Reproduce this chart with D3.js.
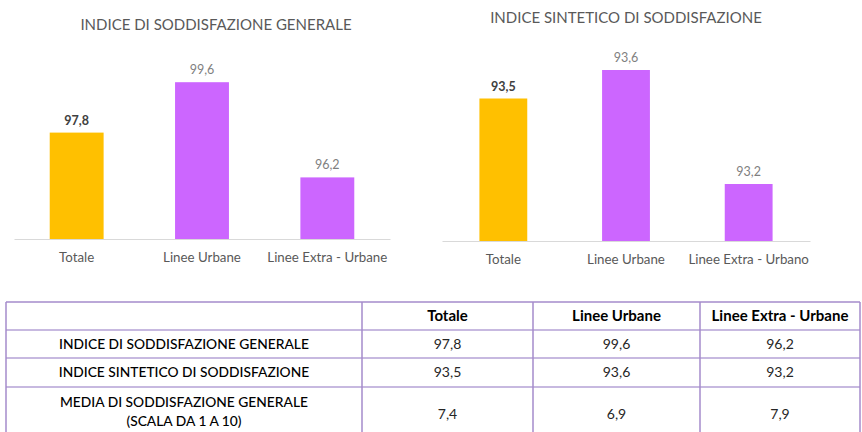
<!DOCTYPE html>
<html><head><meta charset="utf-8">
<script src="https://cdn.jsdelivr.net/npm/d3@7"></script>
<style>
body{margin:0;background:#fff;}
svg{display:block;font-family:Lato,"Open Sans",sans-serif;}
</style></head>
<body><svg id="c" width="862" height="432"></svg>
<script>
// ---- data ----
const categories1 = ["Totale", "Linee Urbane", "Linee Extra - Urbane"];
const categories2 = ["Totale", "Linee Urbane", "Linee Extra - Urbano"];
const indiceGenerale = [97.8, 99.6, 96.2];
const indiceSintetico = [93.5, 93.6, 93.2];
const mediaGenerale = [7.4, 6.9, 7.9];
const title1 = "INDICE DI SODDISFAZIONE GENERALE";
const title2 = "INDICE SINTETICO DI SODDISFAZIONE";
const tableColumns = ["Totale", "Linee Urbane", "Linee Extra - Urbane"];
const rowLabels = [["INDICE DI SODDISFAZIONE GENERALE"], ["INDICE SINTETICO DI SODDISFAZIONE"], ["MEDIA DI SODDISFAZIONE GENERALE", "(SCALA DA 1 A 10)"]];
const tableValues = [indiceGenerale, indiceSintetico, mediaGenerale];

const fmt = v => d3.format(".1f")(v).replace(".", ",");
const barColors = ["#FFC000", "#CC66FF", "#CC66FF"];
const svg = d3.select("#c");

function barChart(cfg) {
  const g = svg.append("g");
  const x = d3.scaleBand().domain(cfg.cats).range(cfg.xr).paddingInner(cfg.pi).paddingOuter(cfg.pi / 2);
  const y = d3.scaleLinear().domain(cfg.yd).range(cfg.yr);
  g.append("text").attr("x", cfg.tx).attr("y", cfg.ty).attr("text-anchor", "middle")
    .attr("fill", "#595959").attr("font-size", 15).text(cfg.title);
  g.selectAll("rect.bar").data(cfg.vals).join("rect").attr("class", "bar")
    .attr("x", (d, i) => x(cfg.cats[i])).attr("width", x.bandwidth())
    .attr("y", d => y(d)).attr("height", d => y(cfg.yd[0]) - y(d))
    .attr("fill", (d, i) => barColors[i]);
  g.selectAll("text.val").data(cfg.vals).join("text").attr("class", "val")
    .attr("x", (d, i) => x(cfg.cats[i]) + x.bandwidth() / 2).attr("y", d => y(d) - 8)
    .attr("text-anchor", "middle").attr("font-size", 12.5)
    .attr("fill", (d, i) => i === 0 ? "#404040" : "#7f7f7f")
    .attr("font-weight", (d, i) => i === 0 ? "bold" : "normal")
    .text(fmt);
  const ax = g.append("g").attr("transform", `translate(0,${y(cfg.yd[0])})`)
    .call(d3.axisBottom(x).tickSize(0).tickPadding(14));
  ax.select(".domain").attr("stroke", "#d9d9d9").attr("stroke-width", 1);
  ax.selectAll("text").attr("fill", "#595959").attr("font-size", 13.3).attr("font-family", "Lato,sans-serif");
}

barChart({cats: categories1, vals: indiceGenerale, xr: [14, 390], pi: 0.57, yd: [94, 100], yr: [239, 71],
  title: title1, tx: 216, ty: 30});
barChart({cats: categories2, vals: indiceSintetico, xr: [442, 810], pi: 0.61, yd: [93, 93.7], yr: [241, 41.5],
  title: title2, tx: 626, ty: 23});

// ---- table ----
const t = svg.append("g");
const colX = [6, 362, 533, 700, 860];
const rowY = [302, 330, 358, 387, 440];
const lineC = "#a48bcb";
rowY.slice(0, 4).forEach((yy, i) => t.append("line").attr("x1", colX[0]).attr("x2", colX[4])
  .attr("y1", yy).attr("y2", yy).attr("stroke", i === 0 ? lineC : "#b4a2d6").attr("stroke-width", 1.3));
colX.forEach(xx => t.append("line").attr("x1", xx).attr("x2", xx).attr("y1", rowY[0]).attr("y2", 432)
  .attr("stroke", lineC).attr("stroke-width", 1.5));
tableColumns.forEach((c, j) => t.append("text").attr("x", (colX[j + 1] + colX[j + 2]) / 2).attr("y", 321)
  .attr("text-anchor", "middle").attr("font-weight", "bold").attr("font-size", 15).attr("fill", "#000").text(c));
const rowCy = [344, 372, 411];
rowLabels.forEach((lines, i) => {
  const tx = t.append("text").attr("text-anchor", "middle").attr("font-size", 13.8).attr("fill", "#000")
    .attr("font-weight", 500);
  lines.forEach((ln, k) => tx.append("tspan").attr("x", (colX[0] + colX[1]) / 2)
    .attr("y", rowCy[i] + 5 + (k - (lines.length - 1) / 2) * 19).text(ln));
  tableValues[i].forEach((v, j) => t.append("text").attr("x", (colX[j + 1] + colX[j + 2]) / 2)
    .attr("y", (i === 2 ? 414 : rowCy[i]) + 5).attr("text-anchor", "middle").attr("font-size", 14)
    .attr("fill", "#262626").text(fmt(v)));
});
</script></body></html>
